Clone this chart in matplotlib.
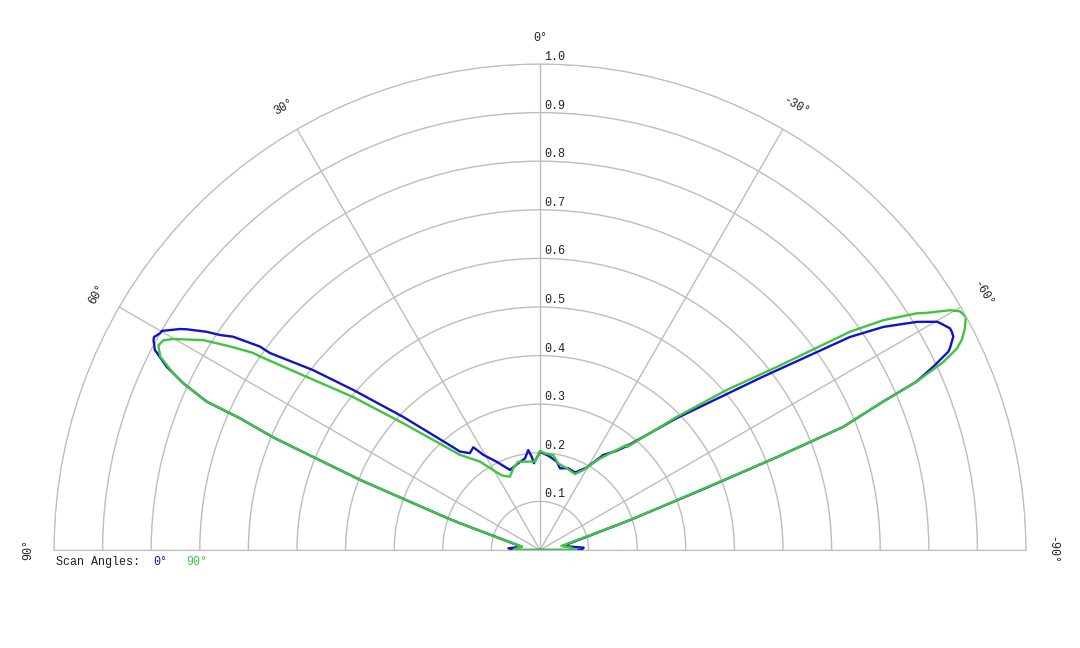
import numpy as np
import matplotlib
matplotlib.use("Agg")
import matplotlib.pyplot as plt
import matplotlib.transforms as mtransforms

# scan angle 0 deg (blue), theta in degrees, r normalised
theta_0 = [-90, -90, -87, -80, -71.6, -69.6, -68.6, -67.9, -66.6, -65.9, -65.0,
           -64.1, -63.8, -62.7, -62.1, -61.6, -60.4, -60.1, -59.2, -58.8,
           -57.0, -55.5, -52.0, -46.0, -40.0,
           -37.7, -33.7, -29.5, -24.4, -19.1, -13.8, -10.7, -6.1, -4.0, 0.0,
           1.6, 4.0, 5.1, 6.7, 9.3, 14.0, 20.6, 26.1, 30.8, 33.0, 35.9, 39.1,
           41.2, 45.8, 49.4, 51.6, 53.9, 54.0, 55.2, 56.1, 56.8, 58.0, 58.45,
           59.9, 60.3, 61.1, 61.5, 62.0, 62.55, 63.85, 64.95, 66.0, 66.3, 67.1,
           67.7, 68.7, 69.0, 71.0, 71.5, 79.8, 86.9, 90, 90]
r_0 = [0.0, 0.085, 0.09, 0.048, 0.195, 0.355, 0.524, 0.673, 0.77, 0.849, 0.893,
       0.934, 0.94, 0.957, 0.959, 0.959, 0.946, 0.942, 0.917, 0.906,
       0.843, 0.774, 0.575, 0.39, 0.28,
       0.258, 0.235, 0.195, 0.175, 0.178, 0.173, 0.185, 0.193, 0.196, 0.202,
       0.192, 0.179, 0.193, 0.207, 0.191, 0.184, 0.176, 0.202, 0.228, 0.252, 0.246, 0.261,
       0.292, 0.393, 0.506, 0.596, 0.688, 0.712, 0.769, 0.793, 0.82, 0.857, 0.869,
       0.899, 0.90, 0.907, 0.905, 0.899, 0.893, 0.856, 0.81, 0.751, 0.674, 0.597,
       0.505, 0.397, 0.353, 0.202, 0.173, 0.038, 0.065, 0.05, 0.0]

# scan angle 90 deg (green)
theta_90 = [-90, -90, -85, -79.5, -71.6, -69.5, -68.6, -67.9, -66.6, -65.9, -65.0,
            -64.2, -63.5, -62.45, -61.3, -60.4, -59.7, -58.5, -57.85, -56.2, -54.85,
            -52.3, -49.4, -45.8, -40.2, -39.5, -33.2, -28.4, -24.7, -18.1, -11.9,
            -8.0, -3.0, 0.0,
            3.2, 8.6, 13.8, 18.1, 22.3, 27.0, 29.5, 34.2, 40.1, 47.2, 50.7, 53.6,
            55.4, 55.5, 56.7, 58.05, 60.1, 60.9, 61.8, 63.0, 64.3, 64.95,
            66.0, 66.3, 67.1, 67.7, 68.7, 69.0, 71.0, 71.5, 79.8, 84.0, 90, 90]
r_90 = [0.0, 0.075, 0.062, 0.045, 0.195, 0.353, 0.524, 0.673, 0.77, 0.849, 0.916,
        0.953, 0.97, 0.986, 0.999, 0.994, 0.978, 0.934, 0.915, 0.85, 0.78,
        0.616, 0.506, 0.393, 0.277, 0.28, 0.225, 0.187, 0.172, 0.177, 0.182,
        0.197, 0.199, 0.204,
        0.182, 0.184, 0.187, 0.177, 0.163, 0.172, 0.185, 0.22, 0.256, 0.384, 0.497, 0.606,
        0.704, 0.716, 0.763, 0.816, 0.871, 0.887, 0.891, 0.877, 0.837, 0.81,
        0.751, 0.674, 0.597, 0.505, 0.397, 0.353, 0.202, 0.173, 0.038, 0.045, 0.055, 0.0]

r_ticks = [0.1, 0.2, 0.3, 0.4, 0.5, 0.6, 0.7, 0.8, 0.9, 1.0]
theta_ticks = [-90, -60, -30, 0, 30, 60, 90]

blue = '#1212c8'
green = '#40c440'
grid_c = '#bdbdbd'
mono = 'Liberation Mono'
fs = 8.5

fig = plt.figure(figsize=(10.8, 6.48), dpi=100)
# the half wedge sits in the middle of a square box: box 972 px, centre at (540, 550)
ax = fig.add_axes([54 / 1080, (98 - 243) / 648, 972 / 1080, 972 / 648],
                  projection='polar')
ax.set_theta_zero_location('N')
ax.set_theta_direction(1)
ax.set_thetamin(-90)
ax.set_thetamax(90)
ax.set_ylim(0, 1.0)
ax.set_aspect('auto')
ax.patch.set_alpha(0)

ax.set_thetagrids(theta_ticks, labels=[''] * len(theta_ticks))
ax.set_rgrids(r_ticks, labels=[''] * len(r_ticks))
ax.grid(True, color=grid_c, lw=1)
ax.spines['polar'].set_color(grid_c)
ax.spines['start'].set_color(grid_c)
ax.spines['end'].set_color(grid_c)
ax.spines['inner'].set_visible(False)
ax.tick_params(length=0)

ax.plot(np.deg2rad(theta_0), r_0, color=blue, lw=1.7)
ax.plot(np.deg2rad(theta_90), r_90, color=green, lw=1.7)

# radial labels just right of the 0 deg spoke
off = mtransforms.offset_copy(ax.transData, fig=fig, x=4, y=1, units='dots')
for r in r_ticks:
    ax.text(0, r, '%.1f' % r, transform=off, ha='left', va='bottom',
            family=mono, fontsize=fs, color='#222222')

# angle labels
for t in theta_ticks:
    ax.text(np.deg2rad(t), 1.053, '%d°' % t, ha='center', va='center',
            rotation=t, rotation_mode='anchor', family=mono, fontsize=fs,
            color='#222222')

fig.text(56 / 1080, 1 - 562 / 648, 'Scan Angles:', family=mono, fontsize=fs,
         va='center', color='#222222')
fig.text(153 / 1080, 1 - 562 / 648, '0°', family=mono, fontsize=fs,
         va='center', color=blue)
fig.text(186 / 1080, 1 - 562 / 648, '90°', family=mono, fontsize=fs,
         va='center', color=green)

fig.savefig('out.png', dpi=100)
